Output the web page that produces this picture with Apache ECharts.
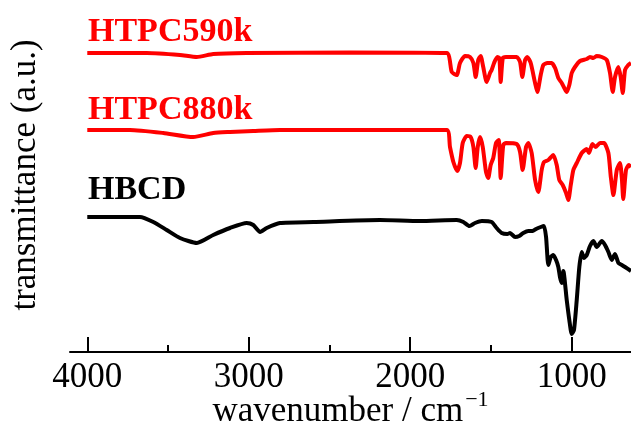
<!DOCTYPE html>
<html>
<head>
<meta charset="utf-8">
<script src="https://cdn.jsdelivr.net/npm/echarts@6/dist/echarts.min.js"></script>
<style>
  html, body { margin: 0; padding: 0; background: #fff; }
  #chart { width: 631px; height: 426px; }
</style>
</head>
<body>
<div id="chart"></div>
<script>
// IR spectra (wavenumber in cm-1, transmittance in a.u. offsets)
const htpc590Wn = [4000, 3632, 3426, 3322, 3220, 3013, 2373, 1774, 1743, 1712, 1692, 1661, 1630, 1609, 1595, 1579, 1564, 1548, 1527, 1506, 1496, 1481, 1461, 1448, 1440, 1427, 1407, 1341, 1320, 1306, 1289, 1275, 1254, 1227, 1213, 1192, 1176, 1151, 1124, 1103, 1083, 1062, 1046, 1031, 1015, 1000, 980, 949, 907, 887, 866, 845, 814, 783, 763, 746, 732, 711, 697, 684, 670, 650, 633];
const htpc590T = [299, 299, 297, 295, 298, 299, 299.5, 299, 280, 277, 289, 296, 295, 289, 275, 292, 296, 285, 270, 279, 282, 289, 295, 294, 270, 294, 295, 295, 290, 275, 292, 295, 289, 269, 260, 277, 287, 289, 289, 284, 274, 269, 264, 260, 267, 279, 285, 291, 293, 295, 294, 296, 295, 292, 279, 260, 275, 285, 275, 259, 282, 287, 289];

const htpc880Wn = [4000, 3736, 3529, 3344, 3220, 3116, 2972, 2807, 2373, 1774, 1754, 1733, 1709, 1692, 1675, 1650, 1626, 1609, 1595, 1582, 1568, 1551, 1531, 1517, 1502, 1486, 1469, 1452, 1440, 1424, 1407, 1341, 1320, 1304, 1283, 1269, 1248, 1227, 1207, 1186, 1172, 1145, 1114, 1093, 1077, 1056, 1035, 1021, 1006, 990, 969, 938, 907, 893, 872, 851, 825, 800, 773, 758, 742, 721, 701, 689, 681, 664, 647, 633];
const htpc880T = [222, 222, 219, 215, 219, 220, 221, 222, 222, 222, 205, 190, 181, 189, 209, 216, 215, 205, 184, 205, 215, 205, 180, 174, 187, 194, 209, 212, 174, 207, 209, 208, 200, 182, 205, 209, 199, 172, 160, 182, 190, 192, 197, 187, 172, 167, 159, 152, 167, 182, 189, 199, 203, 199, 208, 205, 209, 209, 199, 175, 157, 182, 189, 172, 153, 182, 187, 185];

const hbcdWn = [4000, 3674, 3591, 3508, 3426, 3321, 3220, 3116, 3013, 2972, 2930, 2889, 2807, 2600, 2187, 1940, 1712, 1671, 1634, 1599, 1557, 1496, 1465, 1434, 1399, 1382, 1351, 1325, 1300, 1269, 1242, 1221, 1192, 1172, 1159, 1145, 1130, 1114, 1097, 1083, 1073, 1062, 1052, 1031, 1015, 1000, 986, 969, 953, 938, 924, 907, 887, 866, 845, 814, 794, 773, 752, 732, 711, 690, 670, 633];
const hbcdT = [135, 135, 130, 122, 114, 109, 117, 124, 129, 127, 120, 124, 129, 130, 132, 131, 132, 130, 126, 129, 131, 130, 124, 119, 118, 119, 115, 116, 119, 121, 121, 123, 125, 126, 115, 87, 95, 97, 92, 85, 75, 69, 81, 52, 32, 18, 22, 52, 85, 100, 94, 97, 106, 111, 105, 111, 107, 100, 92, 98, 89, 87, 85, 81];

const majorTicks = [1000, 2000, 3000, 4000];
const minorTicks = [1500, 2500, 3500];

const seriesNames = ['HTPC590k', 'HTPC880k', 'HBCD'];
const seriesColors = ['#ff0000', '#ff0000', '#000000'];

function zip(wn, t) {
  return wn.map((w, i) => [w, t[i]]);
}

const serif = '"Liberation Serif", "DejaVu Serif", serif';
const chart = echarts.init(document.getElementById('chart'), null, { renderer: 'canvas' });

const lines = [zip(htpc590Wn, htpc590T), zip(htpc880Wn, htpc880T), zip(hbcdWn, hbcdT)];

const option = {
  animation: false,
  backgroundColor: '#fff',
  grid: { left: 70, right: 0, top: 20, bottom: 74, containLabel: false, outerBoundsMode: 'none' },
  title: [
    { text: seriesNames[0], left: 88, top: 15 },
    { text: seriesNames[1], left: 88, top: 93 },
    { text: seriesNames[2], left: 88, top: 173 }
  ].map((t, i) => Object.assign(t, {
    padding: 0,
    textStyle: { fontFamily: serif, fontWeight: 'bold', fontSize: 34, color: seriesColors[i] }
  })),
  xAxis: [
    {
      type: 'value',
      min: 633,
      max: 4107,
      inverse: true,
      position: 'bottom',
      name: 'wavenumber / cm{sup|−1}',
      nameLocation: 'middle',
      nameGap: 37,
      nameMoveOverlap: false,
      nameTextStyle: {
        fontFamily: serif, fontSize: 35, color: '#000',
        rich: { sup: { fontFamily: serif, fontSize: 22, color: '#000', padding: [0, 0, 24, 2] } }
      },
      axisLine: { lineStyle: { color: '#000', width: 2 } },
      axisTick: { inside: true, length: 15, customValues: majorTicks, lineStyle: { color: '#000', width: 2 } },
      axisLabel: {
        customValues: majorTicks, margin: 8, fontFamily: serif, fontSize: 35, color: '#000',
        formatter: v => String(v)
      },
      splitLine: { show: false }
    },
    {
      type: 'value',
      min: 633,
      max: 4107,
      inverse: true,
      position: 'bottom',
      axisLine: { show: false },
      axisTick: { inside: true, length: 7, customValues: minorTicks, lineStyle: { color: '#000', width: 2 } },
      axisLabel: { show: false },
      splitLine: { show: false }
    }
  ],
  yAxis: {
    type: 'value',
    min: 0,
    max: 332,
    name: 'transmittance (a.u.)',
    nameLocation: 'middle',
    nameRotate: 90,
    nameGap: 27,
    nameTextStyle: { fontFamily: serif, fontSize: 35, color: '#000', padding: [0, 0, 0, 22] },
    axisLine: { show: false },
    axisTick: { show: false },
    axisLabel: { show: false },
    splitLine: { show: false }
  },
  series: lines.map((d, i) => ({
    name: seriesNames[i],
    type: 'line',
    data: d,
    showSymbol: false,
    smooth: 0.2,
    lineStyle: { color: seriesColors[i], width: 4 }
  }))
};

chart.setOption(option);
</script>
</body>
</html>
